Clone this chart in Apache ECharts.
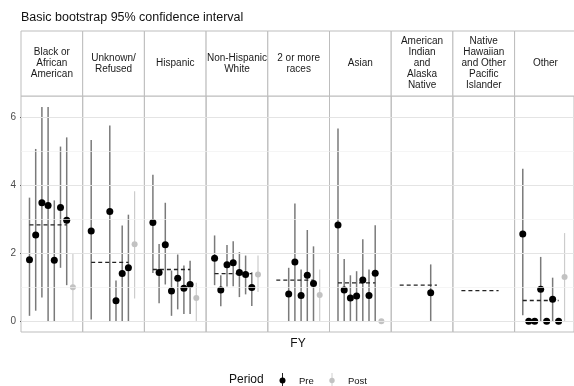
<!DOCTYPE html>
<html>
<head>
<meta charset="utf-8">
<script src="https://cdn.jsdelivr.net/npm/echarts@6/dist/echarts.min.js"></script>
<style>
  html, body { margin: 0; padding: 0; background: #fff; }
  #chart { width: 574px; height: 386px; }
</style>
</head>
<body>
<div id="chart"></div>
<script>
// facet labels (race / ethnicity)
const panelNames = [
  'Black or\nAfrican\nAmerican', 'Unknown/\nRefused', 'Hispanic', 'Non-Hispanic\nWhite',
  '2 or more\nraces', 'Asian', 'American\nIndian\nand\nAlaska\nNative',
  'Native\nHawaiian\nand Other\nPacific\nIslander', 'Other'
]
const yTicks = [0, 2, 4, 6]
const yMinor = [1, 3, 5]
const preFY = [1, 2, 3, 4, 5, 6, 7] // pre period fiscal years (slot index)
const postFY = 8

// pre period: estimate, lower, upper  (one row per panel, null = no data)
const preEst = [
  [1.81, 2.53, 3.48, 3.40, 1.79, 3.34, 2.97],
  [2.65, null, null, 3.22, 0.60, 1.40, 1.57],
  [2.90, 1.43, 2.25, 0.89, 1.26, 0.97, 1.08],
  [1.85, 0.92, 1.66, 1.72, 1.43, 1.37, 0.99],
  [null, null, 0.80, 1.74, 0.76, 1.35, 1.11],
  [2.83, 0.92, 0.68, 0.74, 1.21, 0.76, 1.41],
  [null, null, null, null, null, 0.84, null],
  [null, null, null, null, null, null, null],
  [2.56, 0, 0, 0.94, 0, 0.65, 0]
]
const preLo = [
  [0.16, 0.31, 0.70, 0, 0, 1.57, 1.06],
  [0.05, null, null, 0, 0, 0, 0],
  [1.42, 0.53, 1.08, 0.16, 0.35, 0.21, 0.21],
  [1.06, 0.44, 1.02, 1.03, 0.71, 0.79, 0.45],
  [null, null, 0, 0, 0, 0, 0],
  [0, 0, 0, 0, 0, 0, 0],
  [null, null, null, null, null, 0, null],
  [null, null, null, null, null, null, null],
  [0.18, null, null, 0, null, 0, null]
]
const preHi = [
  [3.63, 5.06, 6.29, 6.29, 3.55, 5.13, 5.40],
  [5.32, null, null, 5.75, 1.20, 2.81, 3.13],
  [4.30, 2.27, 3.48, 1.49, 1.96, 1.64, 1.78],
  [2.52, 1.35, 2.24, 2.35, 2.03, 1.93, 1.44],
  [null, null, 1.57, 3.46, 1.52, 2.68, 2.20],
  [5.66, 1.83, 1.35, 1.47, 2.41, 1.52, 2.82],
  [null, null, null, null, null, 1.67, null],
  [null, null, null, null, null, null, null],
  [4.48, null, null, 1.89, null, 1.28, null]
]
// post period
const postEst = [1.00, 2.26, 0.68, 1.37, 0.77, 0, null, null, 1.30]
const postLo = [0, 0.67, 0, 0.86, 0, null, null, null, 0]
const postHi = [1.99, 3.82, 1.13, 1.93, 1.52, null, null, null, 2.59]
// pre period mean (dashed)
const preMean = [2.83, 1.73, 1.52, 1.40, 1.21, 1.13, 1.06, 0.90, 0.61]

const chart = echarts.init(document.getElementById('chart'))
const FONT = '"Liberation Sans", Arial, sans-serif'
const L = 21
const W = 61.7
const TOP = 96
const H = 236
const STRIP_TOP = 31

function rangeRender(color, width) {
  return function(params, api) {
    const a = api.coord([api.value(0), api.value(1)])
    const b = api.coord([api.value(0), api.value(2)])
    return {
      type: 'line',
      shape: { x1: a[0], y1: a[1], x2: b[0], y2: b[1] },
      style: { stroke: color, lineWidth: width }
    }
  }
}

const grid = []
const xAxis = []
const yAxis = []
const series = []
const graphic = []

for (let i = 0; i < panelNames.length; i++) {
  const left = L + i * W
  grid.push({ left: left, top: TOP, width: W, height: H, show: true, borderColor: '#bdbdbd', borderWidth: 1 })
  xAxis.push({ gridIndex: i, type: 'value', min: -0.37, max: 9.58, show: false })
  yAxis.push({
    gridIndex: i,
    type: 'value',
    min: -0.315,
    max: 6.615,
    splitLine: { show: false },
    axisLine: { show: false },
    axisTick: { show: i === 0, length: 3, customValues: yTicks, lineStyle: { color: '#333' } },
    axisLabel: { show: i === 0, customValues: yTicks, color: '#4d4d4d', fontSize: 10, margin: 5, fontFamily: FONT }
  })

  // grid lines
  series.push({
    type: 'line',
    xAxisIndex: i,
    yAxisIndex: i,
    data: [],
    silent: true,
    z: 0,
    markLine: {
      silent: true,
      symbol: 'none',
      animation: false,
      label: { show: false },
      data: yTicks.map(v => ({ yAxis: v, lineStyle: { color: '#e4e4e4', width: 1, type: 'solid' } }))
        .concat(yMinor.map(v => ({ yAxis: v, lineStyle: { color: '#f1f1f1', width: 0.7, type: 'solid' } })))
    }
  })

  // post
  if (postEst[i] !== null) {
    if (postLo[i] !== null) {
      series.push({
        type: 'custom',
        xAxisIndex: i,
        yAxisIndex: i,
        z: 2,
        renderItem: rangeRender('#cccccc', 1.2),
        data: [[postFY, postLo[i], postHi[i]]]
      })
    }
    series.push({
      type: 'scatter',
      xAxisIndex: i,
      yAxisIndex: i,
      z: 3,
      symbolSize: 6,
      itemStyle: { color: '#c2c2c2', opacity: 1 },
      data: [[postFY, postEst[i]]]
    })
  }

  // pre ranges
  const ranges = []
  const points = []
  for (let j = 0; j < preFY.length; j++) {
    if (preLo[i][j] !== null) ranges.push([preFY[j], preLo[i][j], preHi[i][j]])
    if (preEst[i][j] !== null) points.push([preFY[j], preEst[i][j]])
  }
  series.push({
    type: 'custom',
    xAxisIndex: i,
    yAxisIndex: i,
    z: 2,
    renderItem: rangeRender('#7a7a7a', 1.5),
    data: ranges
  })
  series.push({
    type: 'line',
    xAxisIndex: i,
    yAxisIndex: i,
    z: 3,
    symbol: 'none',
    lineStyle: { color: '#222', width: 1.3, type: [4, 3] },
    data: [[preFY[0], preMean[i]], [preFY[preFY.length - 1], preMean[i]]]
  })
  series.push({
    type: 'scatter',
    xAxisIndex: i,
    yAxisIndex: i,
    z: 4,
    symbolSize: 7,
    itemStyle: { color: '#000', opacity: 1 },
    data: points
  })

  // strip header
  graphic.push({
    type: 'rect',
    shape: { x: left, y: STRIP_TOP, width: W, height: TOP - STRIP_TOP },
    style: { fill: '#fff', stroke: '#bdbdbd', lineWidth: 1 }
  })
  graphic.push({
    type: 'text',
    x: left + W / 2,
    y: (STRIP_TOP + TOP) / 2,
    style: {
      text: panelNames[i], fill: '#1a1a1a', font: '10px ' + FONT, lineHeight: 11,
      textAlign: 'center', textVerticalAlign: 'middle'
    }
  })
}

// titles and legend
graphic.push({
  type: 'text', x: 21, y: 18,
  style: { text: 'Basic bootstrap 95% confidence interval', fill: '#111', font: '12.5px ' + FONT, textVerticalAlign: 'middle' }
})
graphic.push({
  type: 'text', x: 298, y: 344,
  style: { text: 'FY', fill: '#111', font: '12px ' + FONT, textAlign: 'center', textVerticalAlign: 'middle' }
})
graphic.push({
  type: 'text', x: 229, y: 380,
  style: { text: 'Period', fill: '#111', font: '12px ' + FONT, textVerticalAlign: 'middle' }
})
graphic.push({ type: 'line', shape: { x1: 282.5, y1: 373, x2: 282.5, y2: 387 }, style: { stroke: '#222', lineWidth: 1 } })
graphic.push({ type: 'circle', shape: { cx: 282.5, cy: 380.5, r: 3 }, style: { fill: '#000' } })
graphic.push({
  type: 'text', x: 299, y: 381,
  style: { text: 'Pre', fill: '#111', font: '9.5px ' + FONT, textVerticalAlign: 'middle' }
})
graphic.push({ type: 'line', shape: { x1: 332, y1: 373, x2: 332, y2: 387 }, style: { stroke: '#d0d0d0', lineWidth: 1 } })
graphic.push({ type: 'circle', shape: { cx: 332, cy: 380.5, r: 2.7 }, style: { fill: '#c2c2c2' } })
graphic.push({
  type: 'text', x: 348, y: 381,
  style: { text: 'Post', fill: '#111', font: '9.5px ' + FONT, textVerticalAlign: 'middle' }
})

chart.setOption({
  animation: false,
  grid: grid,
  xAxis: xAxis,
  yAxis: yAxis,
  series: series,
  graphic: graphic
})
</script>
</body>
</html>
